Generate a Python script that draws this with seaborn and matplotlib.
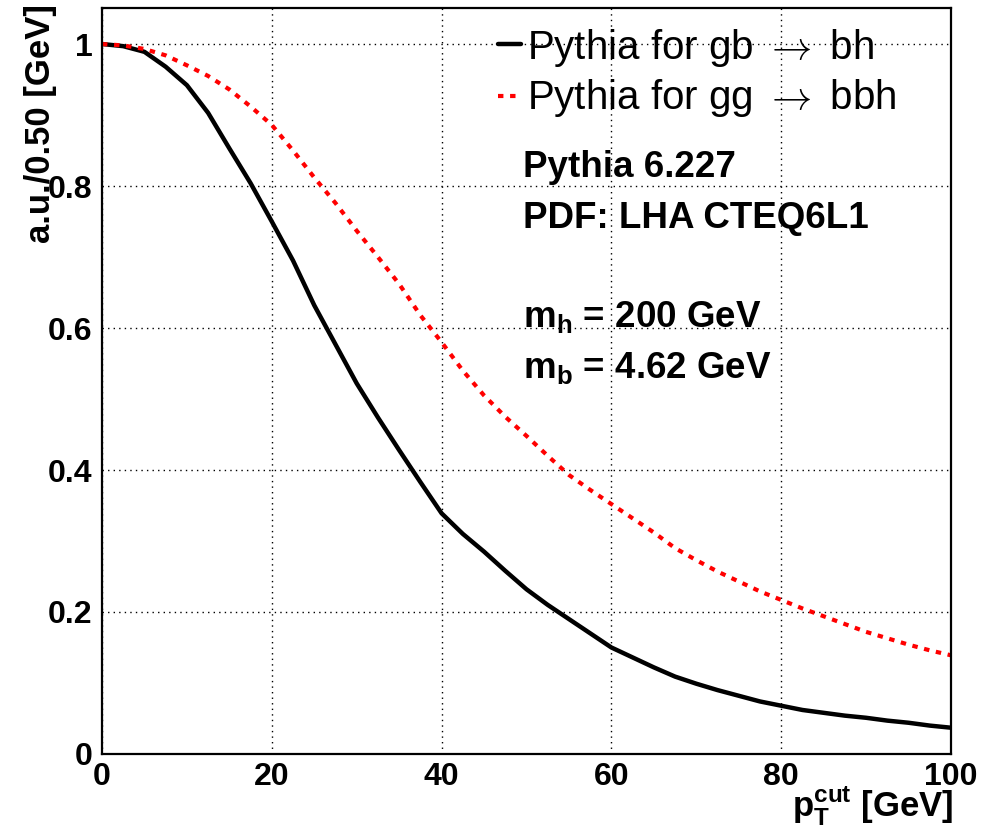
import seaborn as sns
import matplotlib.pyplot as plt
import matplotlib.ticker as mticker
from matplotlib.lines import Line2D
import pandas as pd
import numpy as np

# pT cut values (GeV) where curves were read
pt_cut = [0, 2.5, 5, 7.5, 10, 12.5, 15, 17.5, 20, 22.5, 25, 27.5, 30, 32.5, 35, 37.5,
          40, 42.5, 45, 47.5, 50, 52.5, 55, 57.5, 60, 62.5, 65, 67.5, 70, 72.5, 75,
          77.5, 80, 82.5, 85, 87.5, 90, 92.5, 95, 97.5, 100]

# gb -> bh
gb_bh = [1.000, 0.997, 0.989, 0.968, 0.942, 0.903, 0.853, 0.804, 0.750, 0.695, 0.632,
         0.577, 0.522, 0.474, 0.428, 0.383, 0.339, 0.310, 0.285, 0.258, 0.232, 0.210,
         0.190, 0.170, 0.150, 0.136, 0.122, 0.109, 0.099, 0.090, 0.082, 0.074, 0.068,
         0.062, 0.058, 0.054, 0.051, 0.047, 0.044, 0.040, 0.037]

# gg -> bbh
gg_bbh = [1.000, 0.998, 0.993, 0.984, 0.970, 0.955, 0.936, 0.912, 0.886, 0.850, 0.812,
          0.776, 0.737, 0.700, 0.662, 0.618, 0.580, 0.540, 0.505, 0.475, 0.448, 0.420,
          0.393, 0.372, 0.352, 0.332, 0.312, 0.290, 0.273, 0.257, 0.243, 0.229, 0.217,
          0.205, 0.194, 0.183, 0.172, 0.163, 0.154, 0.146, 0.139]

labels = [r"Pythia for gb $\rightarrow$ bh", r"Pythia for gg $\rightarrow$ bbh"]

sns.set_style("white")
plt.rcParams['font.family'] = ['Liberation Sans', 'DejaVu Sans']
plt.rcParams['text.color'] = 'black'
plt.rcParams['xtick.color'] = 'black'
plt.rcParams['ytick.color'] = 'black'
plt.rcParams['mathtext.fontset'] = 'custom'
plt.rcParams['mathtext.rm'] = 'Liberation Sans:bold'
plt.rcParams['mathtext.it'] = 'Liberation Sans:bold'
plt.rcParams['mathtext.bf'] = 'Liberation Sans:bold'

W, H = 998, 836
fig = plt.figure(figsize=(W / 100, H / 100), dpi=100)
ax = fig.add_axes([0.1022, 0.0981, 0.8507, 0.8923])

red_dash = (0, (1.3, 1.6))
df1 = pd.DataFrame({"pt": pt_cut, "val": gb_bh})
df2 = pd.DataFrame({"pt": pt_cut, "val": gg_bbh})
sns.lineplot(data=df1, x="pt", y="val", ax=ax, color="black", lw=3.2, legend=False)
sns.lineplot(data=df2, x="pt", y="val", ax=ax, color="red", lw=3.0,
             linestyle=red_dash, legend=False)

ax.set_xlim(0, 100)
ax.set_ylim(0, 1.0507)
ax.set_xlabel("")
ax.set_ylabel("")

ax.xaxis.set_major_locator(mticker.MultipleLocator(20))
ax.xaxis.set_minor_locator(mticker.MultipleLocator(5))
ax.yaxis.set_major_locator(mticker.MultipleLocator(0.2))
ax.yaxis.set_minor_locator(mticker.MultipleLocator(0.05))
ax.yaxis.set_major_formatter(mticker.FuncFormatter(lambda v, p: "%g" % round(v, 2)))
ax.xaxis.set_major_formatter(mticker.FuncFormatter(lambda v, p: "%g" % v))

ax.tick_params(axis="both", which="major", direction="in", length=22, width=1.2,
               labelsize=23, pad=6)
ax.tick_params(axis="both", which="minor", direction="in", length=11, width=1.2)
ax.tick_params(axis="y", which="major", pad=7)
for lab in ax.get_xticklabels() + ax.get_yticklabels():
    lab.set_fontweight("bold")

ax.grid(True, which="major", color="black", linestyle=(0, (1, 3)), linewidth=1.0)
for sp in ax.spines.values():
    sp.set_linewidth(1.6)
    sp.set_color("black")

# legend, drawn by hand in figure pixels
fig.add_artist(Line2D([498 / W, 521 / W], [1 - 44 / H, 1 - 44 / H], color="black",
                      lw=3.2, transform=fig.transFigure))
fig.add_artist(Line2D([498 / W, 516 / W], [1 - 96 / H, 1 - 96 / H], color="red",
                      lw=3.0, linestyle=red_dash, transform=fig.transFigure))
fig.text(527 / W, 1 - 59 / H, labels[0], fontsize=29, ha="left", va="baseline",
         math_fontfamily="cm")
fig.text(527 / W, 1 - 109 / H, labels[1], fontsize=29, ha="left", va="baseline",
         math_fontfamily="cm")

txt_kw = dict(fontsize=26.5, fontweight="bold", ha="left", va="baseline")
fig.text(523 / W, 1 - 177 / H, "Pythia 6.227", **txt_kw)
fig.text(523 / W, 1 - 228 / H, "PDF: LHA CTEQ6L1", **txt_kw)
fig.text(523 / W, 1 - 327 / H, r"m$_{h}$ = 200 GeV", **txt_kw)
fig.text(523 / W, 1 - 378 / H, r"m$_{b}$ = 4.62 GeV", **txt_kw)

fig.text(0.041, 0.995, "a.u./0.50 [GeV]", rotation=90, ha="center", va="top",
         fontsize=25, fontweight="bold")
fig.text(953 / W, 1 - 817 / H, r"p$_{T}^{cut}$ [GeV]", ha="right", va="baseline",
         fontsize=25, fontweight="bold")

fig.savefig("out.png", dpi=100)
